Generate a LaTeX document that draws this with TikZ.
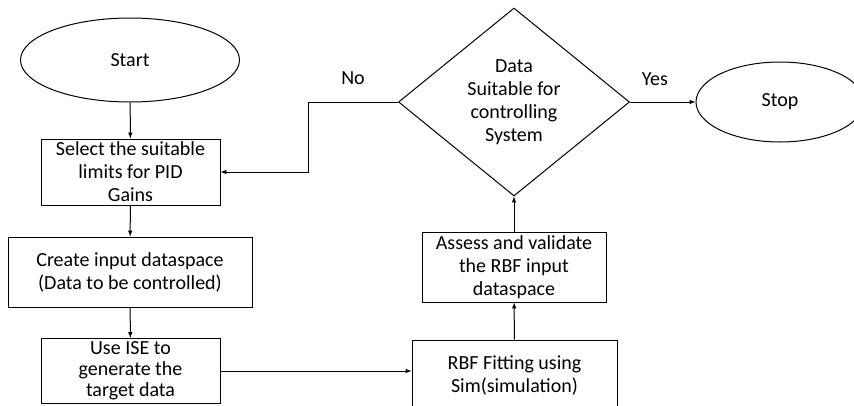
\documentclass[tikz,border=0pt]{standalone}
\usepackage{fontspec}
\setmainfont{Carlito}
\usetikzlibrary{shapes.geometric}

\begin{document}
\begin{tikzpicture}[x=1pt,y=-1pt,font=\fontsize{20}{23}\selectfont,
    every node/.style={inner sep=0pt,align=center},
    process/.style={draw,line width=1pt,rectangle},
    terminal/.style={draw,line width=1pt,ellipse},
    decision/.style={draw,line width=1pt,diamond,aspect=1.23},
    flow/.style={-latex,line width=1pt}]
    \useasboundingbox (0,0) rectangle (854,405);
    \clip (0,0) rectangle (854,405);
    % left column
    \node[terminal,minimum width=219pt,minimum height=84pt] (start) at (130,60) {Start};
    \node[process,minimum width=179pt,minimum height=66pt] (select) at (130.5,172) {Select the suitable\\limits for PID\\Gains};
    \node[process,minimum width=244pt,minimum height=70pt] (create) at (130,272) {Create input dataspace\\(Data to be controlled)};
    \node[process,minimum width=179pt,minimum height=65pt,font=\fontsize{20}{21}\selectfont] (use) at (130.5,371) {Use ISE to\\generate the\\target data};
    % right column
    \node[process,minimum width=205pt,minimum height=70pt] (rbf) at (514.5,375) {RBF Fitting using\\Sim(simulation)};
    \node[process,minimum width=184pt,minimum height=70pt] (assess) at (514,267) {Assess and validate\\the RBF input\\dataspace};
    \node[decision,minimum width=231pt,minimum height=188pt] (check) at (514,102) {Data\\Suitable for\\controlling\\System};
    \node[terminal,minimum width=168pt,minimum height=80pt] (stop) at (780,102) {Stop};
    % connectors
    \draw[flow] (start) -- (select);
    \draw[flow] (select) -- (create);
    \draw[flow] (create) -- (use);
    \draw[flow] (use.east) -- (use.east -| rbf.west);
    \draw[flow] (rbf) -- (assess);
    \draw[flow] (assess) -- (check);
    \draw[flow] (check) -- node[above=16pt,pos=0.38] {Yes} (stop);
    \draw[flow] (check.west) -- node[above=17pt] {No} ++(-90,0) |- (select.east);
\end{tikzpicture}
\end{document}
